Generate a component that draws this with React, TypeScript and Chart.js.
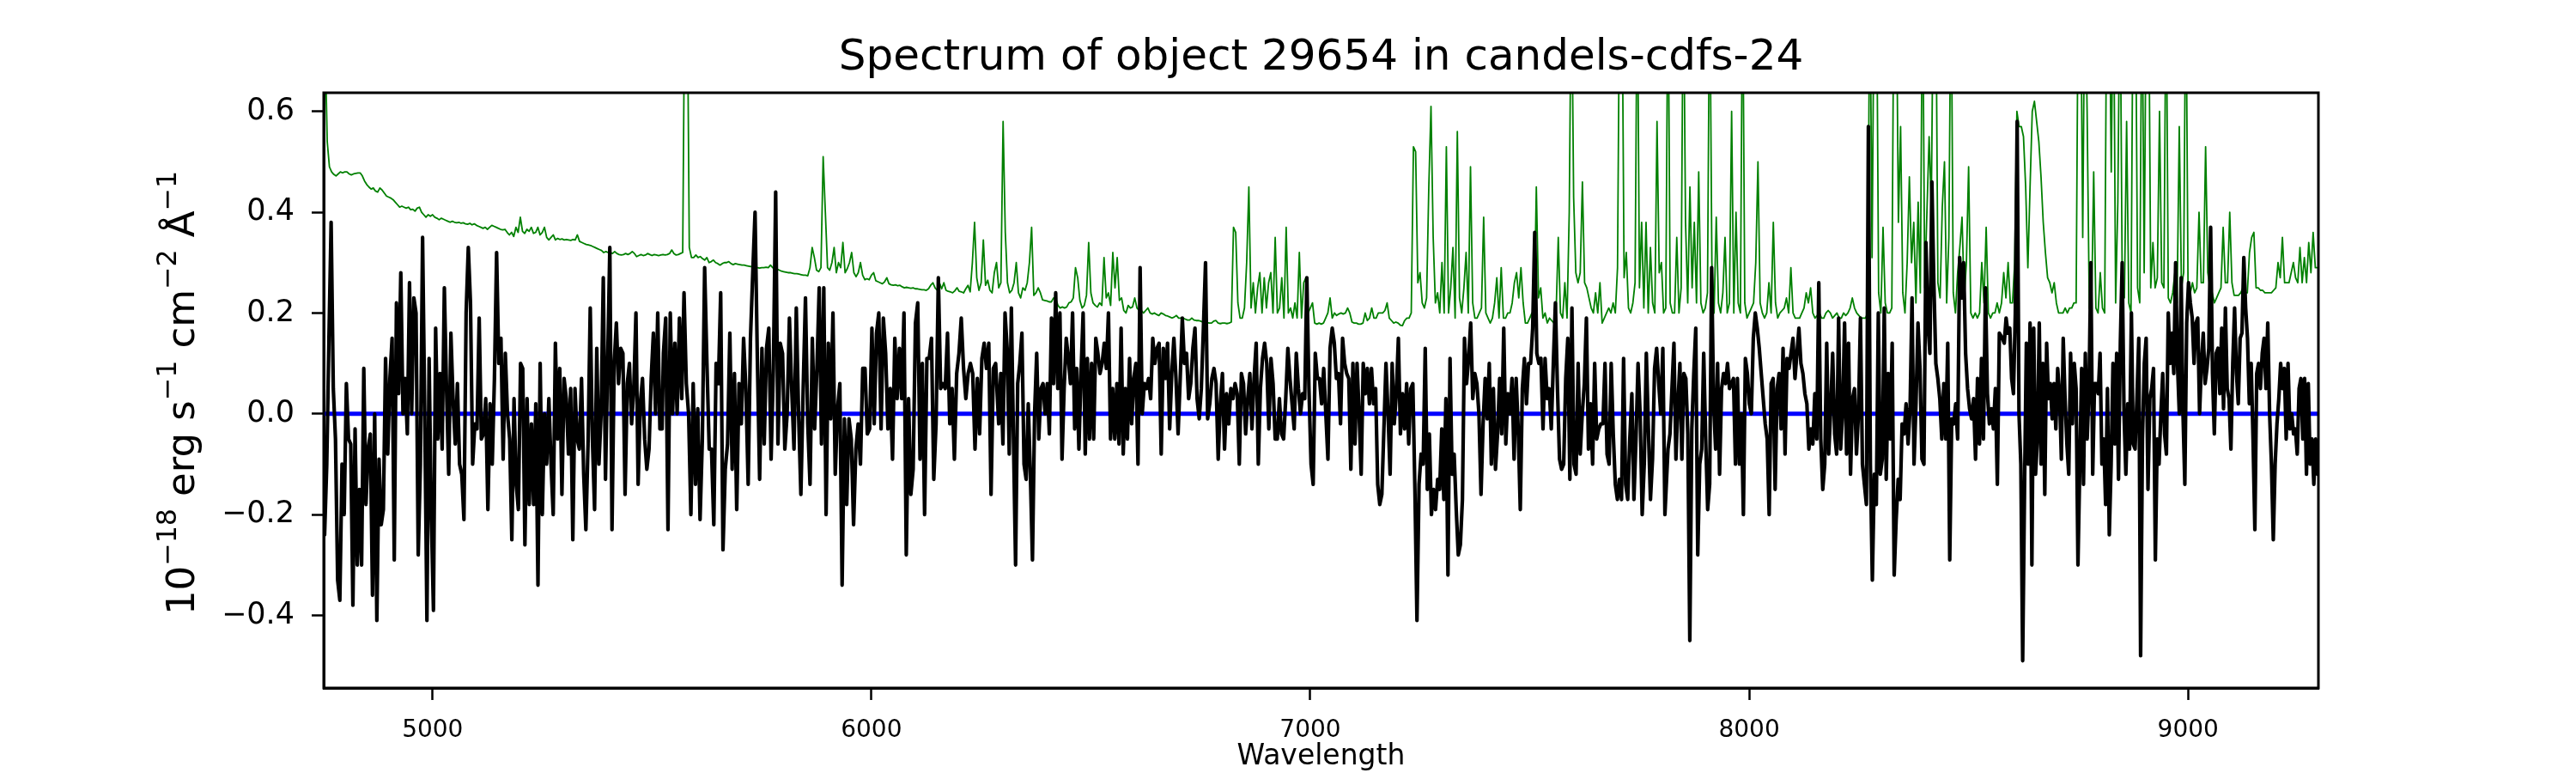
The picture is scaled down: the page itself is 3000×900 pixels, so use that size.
import React, { useEffect, useRef } from 'react';
import Chart from 'chart.js/auto';

const TITLE = 'Spectrum of object 29654 in candels-cdfs-24';
const X_LABEL = 'Wavelength';
// y label pieces: plain text and raised exponents
const Y_LABEL_PARTS = [
  { text: '10', sup: false },
  { text: '\u221218', sup: true },
  { text: ' erg s', sup: false },
  { text: '\u22121', sup: true },
  { text: ' cm', sup: false },
  { text: '\u22122', sup: true },
  { text: ' Å', sup: false },
  { text: '\u22121', sup: true },
];

const X_TICKS = [5000, 6000, 7000, 8000, 9000];
const Y_TICKS = [-0.4, -0.2, 0.0, 0.2, 0.4, 0.6];
const X_RANGE = [4752, 9297];
const Y_RANGE = [-0.544, 0.637];

const FLUX_RANGES = [
  [4754, 5523], [5526, 6283], [6290, 7045], [7050, 7808], [7815, 8570], [8577, 9295],
];
const FLUX_A = [
  -0.24, -0.1, 0.15, 0.38, 0.05, -0.05, -0.33, -0.37, -0.1, -0.2, 0.06, -0.05, -0.06, -0.38, -0.03, -0.3,
  -0.15, -0.3, 0.09, -0.18, -0.07, -0.04, -0.36, 0.0, -0.41, -0.09, -0.22, -0.19, 0.11, -0.08, 0.07, 0.15,
  -0.29, 0.22, 0.04, 0.28, 0.0, 0.07, -0.04, 0.26, 0.0, 0.23, 0.2, -0.28, -0.1, 0.35, 0.0, -0.41, 0.11,
  -0.2, -0.39, 0.17, -0.05, 0.08, -0.07, 0.25, 0.05, -0.12, 0.16, 0.03, -0.06, 0.06, -0.1, -0.12, -0.21,
  0.2, 0.33, 0.22, -0.1, -0.02, -0.03, 0.19, -0.05, -0.04, 0.03, -0.19, 0.02, -0.1, 0.07, 0.32, 0.1, 0.15,
  -0.09, 0.12, 0.0, -0.05, -0.25, 0.03, -0.14, -0.19, 0.1, 0.09, -0.26, 0.03, -0.18, -0.02, -0.18, 0.02,
  -0.34, 0.1, -0.2, 0.0, -0.1, 0.03, -0.1, -0.2, 0.14, -0.05, 0.09, -0.16, 0.07, 0.03, -0.08, 0.05, -0.25,
  0.05, -0.05, -0.07, 0.07, -0.12, -0.23, -0.06, 0.21, -0.05, -0.19, 0.13, -0.1, 0.0, 0.27, -0.13, 0.1,
  0.33, -0.23, 0.1, 0.18, 0.06, 0.13, 0.12, -0.16, 0.06, 0.1, -0.02, 0.05, 0.2, -0.14, 0.02, 0.07, -0.05,
  -0.11, -0.07, 0.07, 0.16, 0.0, 0.2, -0.03, -0.03,
];
const FLUX_B = [
  0.12, 0.19, -0.23, 0.2, 0.0, 0.14, 0.0, 0.19, 0.03, 0.24, 0.06, 0.0, -0.2, 0.06, -0.14, 0.01, -0.21,
  -0.05, 0.29, 0.1, -0.07, -0.07, -0.22, 0.1, 0.06, 0.24, -0.27, -0.11, -0.06, 0.16, -0.11, 0.08, -0.19,
  0.06, -0.02, 0.15, 0.05, -0.14, 0.15, 0.28, 0.4, 0.11, -0.13, 0.13, -0.06, 0.13, 0.17, -0.09, 0.09, 0.44,
  -0.06, 0.14, 0.12, -0.07, 0.0, 0.19, 0.05, -0.07, 0.21, 0.0, -0.16, 0.05, 0.23, -0.02, -0.14, 0.15, -0.03,
  0.09, 0.25, -0.06, 0.25, -0.2, 0.14, -0.01, 0.2, -0.12, 0.01, 0.06, -0.34, -0.01, -0.18, -0.01, -0.05,
  -0.22, -0.07, -0.02, -0.1, 0.09, 0.09, -0.04, -0.03, 0.17, -0.02, 0.16, 0.2, -0.03, 0.19, 0.12, -0.03,
  0.05, -0.09, 0.15, 0.03, 0.13, 0.03, 0.2, -0.28, 0.03, -0.16, -0.11, 0.18, 0.22, -0.09, 0.1, -0.2, 0.11,
  0.11, 0.15, -0.13, -0.02, 0.27, 0.05, 0.06, 0.05, 0.16, -0.02, 0.05, -0.09, 0.08, 0.12, 0.19, 0.09, 0.03,
  0.08, 0.1, 0.08, -0.07, 0.07, -0.04, 0.11, 0.14, 0.09, 0.14, -0.16, 0.09, 0.1,
];
const FLUX_C = [
  -0.02, 0.08, -0.06, 0.2, 0.13, -0.08, 0.21, -0.05, -0.3, 0.06, 0.1, 0.16, -0.1, -0.13, 0.02, -0.12, -0.29,
  0.0, 0.12, -0.05, 0.05, 0.06, 0.0, 0.06, -0.04, 0.19, 0.06, 0.24, 0.05, 0.2, -0.09, 0.05, 0.15, 0.11, 0.06,
  0.2, -0.03, 0.09, -0.07, 0.08, 0.2, -0.08, 0.11, -0.05, 0.1, -0.05, 0.15, 0.12, 0.08, 0.1, 0.14, 0.09, 0.2,
  -0.05, 0.05, -0.05, 0.06, -0.06, 0.17, -0.08, 0.05, -0.05, 0.11, -0.02, 0.07, 0.1, -0.1, 0.29, 0.0, 0.06,
  0.05, 0.07, 0.03, 0.15, 0.1, 0.13, 0.14, -0.08, 0.13, 0.07, 0.14, -0.03, 0.08, 0.15, 0.07, -0.04, 0.07,
  0.19, 0.1, 0.12, 0.03, 0.06, 0.13, 0.17, 0.03, -0.01, 0.05, 0.17, 0.3, -0.01, 0.02, 0.07, 0.09, 0.06,
  -0.09, 0.02, 0.08, -0.07, 0.04, -0.02, 0.05, 0.03, 0.06, 0.04, -0.1, 0.08, 0.06, -0.04, 0.03, 0.08, -0.03,
  0.07, 0.14, -0.1, 0.05, 0.11, 0.14, 0.1, -0.03, 0.11, 0.06, -0.05, -0.05, 0.03, -0.04, -0.05, 0.03, 0.13,
  0.07, 0.02, -0.03, 0.12, 0.05, 0.0, 0.04, 0.03, 0.27, 0.05, -0.1, -0.14, 0.12, 0.07, 0.07, 0.02, 0.09, 0.0,
  -0.09, 0.13,
];
const FLUX_D = [
  0.17, 0.14, 0.07, 0.08, -0.02, 0.15, 0.1, 0.08, 0.07, -0.11, 0.1, -0.06, 0.1, 0.0, -0.12, 0.1, 0.04, 0.09,
  0.02, 0.09, 0.02, 0.05, -0.14, -0.18, -0.16, -0.03, 0.1, 0.0, -0.12, 0.1, -0.02, 0.04, 0.15, -0.04, 0.04,
  -0.03, 0.06, -0.06, 0.05, 0.06, -0.15, -0.41, -0.14, -0.08, -0.1, 0.13, -0.15, -0.04, -0.2, -0.15, -0.19,
  -0.13, -0.15, -0.03, -0.17, 0.03, -0.32, 0.11, -0.12, -0.08, -0.19, -0.28, -0.26, -0.17, 0.15, 0.06, 0.11,
  0.18, 0.03, 0.08, 0.06, 0.0, -0.16, -0.02, 0.07, -0.01, 0.1, -0.1, 0.05, -0.11, -0.04, 0.07, -0.04, 0.17,
  -0.06, 0.04, 0.0, 0.07, -0.09, 0.07, -0.03, -0.19, 0.05, 0.11, 0.02, 0.1, 0.1, 0.17, 0.36, 0.12, 0.1, 0.11,
  -0.03, 0.11, 0.03, 0.05, -0.03, 0.1, 0.22, 0.05, -0.09, -0.11, -0.1, 0.07, 0.15, -0.13, 0.21, -0.1, -0.12,
  0.1, -0.08, 0.0, 0.06, 0.19, -0.07, 0.02, -0.1, 0.1, -0.05, -0.03, -0.02, -0.02, 0.1, -0.08, -0.1, 0.1,
  -0.04, -0.14, -0.17, -0.13, -0.17, 0.11, -0.14, -0.17, -0.05, 0.04, -0.17, -0.05, 0.1, 0.0, -0.2, -0.1,
  0.12, -0.03, -0.17, -0.09, 0.09, 0.13, 0.06, 0.0, 0.13, -0.2,
];
const FLUX_E = [
  -0.07, -0.04, 0.05, 0.14, -0.09, 0.02, 0.1, -0.09, 0.08, 0.07, -0.04, -0.45, -0.03, 0.08, 0.17, -0.28,
  -0.1, -0.07, 0.12, -0.05, -0.19, -0.14, 0.29, 0.02, -0.07, 0.1, -0.12, 0.05, 0.08, 0.06, 0.1, 0.05, 0.06,
  0.07, -0.1, 0.07, -0.1, 0.0, -0.2, 0.11, 0.08, 0.02, 0.0, 0.15, 0.2, 0.17, 0.13, 0.08, 0.03, -0.02, -0.05,
  -0.2, 0.06, 0.07, -0.15, 0.05, 0.08, -0.03, 0.13, -0.08, 0.11, 0.09, 0.12, 0.15, 0.07, 0.12, 0.17, 0.1,
  0.08, 0.04, 0.02, -0.07, -0.03, -0.06, 0.04, -0.05, 0.26, -0.05, -0.15, -0.1, 0.14, -0.08, 0.01, 0.12,
  -0.04, -0.08, 0.19, -0.07, 0.0, 0.18, -0.08, 0.14, -0.12, 0.03, 0.05, -0.08, 0.0, 0.19, -0.1, -0.14,
  -0.18, 0.57, -0.1, -0.33, -0.12, -0.18, 0.2, -0.12, -0.09, 0.21, -0.13, 0.08, -0.05, 0.14, -0.32, -0.21,
  -0.13, -0.17, -0.02, -0.04, 0.02, -0.06, 0.01, 0.23, -0.1, 0.02, 0.18, 0.09, -0.09, -0.1, 0.34, 0.18,
  0.12, 0.46, 0.26, 0.1, 0.07, 0.03, -0.05, 0.06, -0.05, 0.14, -0.29, -0.01, -0.02, 0.02, -0.05, 0.31,
  0.23, 0.3, 0.12, 0.05, 0.01, -0.01, 0.03, -0.09, 0.07, -0.06, 0.11, -0.05, 0.25, 0.04, -0.02, 0.01,
  -0.03, 0.05, -0.14, 0.16,
];
const FLUX_F = [
  0.15, 0.14, 0.19, 0.16, 0.17, 0.07, 0.04, 0.2, 0.58, 0.0, -0.1, -0.49, -0.15, 0.14, -0.1, 0.18, -0.3,
  0.17, -0.12, -0.05, 0.18, -0.1, 0.1, -0.16, 0.14, 0.03, 0.06, -0.01, 0.06, -0.03, 0.09, 0.04, -0.09,
  0.15, 0.03, -0.06, -0.12, 0.12, -0.02, 0.1, 0.05, -0.3, -0.1, 0.09, -0.14, 0.12, -0.05, 0.05, 0.3, -0.12,
  0.06, 0.06, 0.04, 0.12, -0.1, -0.05, -0.18, 0.05, -0.24, -0.1, 0.1, -0.06, 0.12, -0.13, 0.14, 0.3, 0.0,
  -0.12, 0.02, -0.07, 0.2, -0.06, -0.07, 0.03, 0.15, -0.48, -0.05, 0.1, 0.15, -0.15, 0.03, 0.05, 0.09,
  -0.29, -0.05, -0.1, 0.0, 0.08, -0.04, -0.08, 0.2, 0.1, 0.16, 0.08, 0.3, 0.1, 0.0, 0.27, 0.0, -0.14, 0.18,
  0.26, 0.22, 0.19, 0.1, 0.18, 0.19, 0.0, 0.1, 0.16, 0.06, 0.09, 0.13, 0.37, 0.08, -0.04, 0.12, 0.13, 0.04,
  0.17, 0.01, 0.21, 0.05, 0.03, -0.07, 0.1, 0.21, 0.08, 0.02, 0.15, 0.16, 0.31, 0.21, 0.15, 0.02, 0.1,
  -0.05, -0.23, 0.08, 0.1, 0.05, 0.12, 0.15, 0.05, 0.18, 0.0, -0.1, -0.25, -0.1, -0.02, 0.03, 0.1, 0.05,
  0.09, -0.05, 0.1, -0.03, 0.0, -0.04, -0.03, -0.08, 0.05, 0.07, -0.05, 0.07, -0.12, 0.06, -0.1, -0.05,
  -0.14, -0.05, -0.12,
];

// noise / sky spectrum (green)
const SKY_RANGES = [
  [4755, 5520], [5525, 6280], [6285, 7040], [7045, 7800], [7805, 8560], [8565, 9295],
];
const SKY_A = [
  0.75, 0.54, 0.49, 0.48, 0.475, 0.472, 0.476, 0.48, 0.478, 0.48, 0.48, 0.476, 0.474, 0.476, 0.477, 0.478,
  0.478, 0.472, 0.462, 0.455, 0.45, 0.446, 0.448, 0.442, 0.44, 0.448, 0.444, 0.438, 0.432, 0.43, 0.428,
  0.425, 0.42, 0.415, 0.41, 0.412, 0.41, 0.408, 0.41, 0.405, 0.406, 0.402, 0.408, 0.41, 0.4, 0.395, 0.39,
  0.395, 0.392, 0.395, 0.39, 0.388, 0.385, 0.388, 0.386, 0.384, 0.382, 0.38, 0.382, 0.38, 0.379, 0.38,
  0.378, 0.379, 0.377, 0.376, 0.378, 0.375, 0.377, 0.374, 0.372, 0.37, 0.368, 0.37, 0.366, 0.37, 0.374,
  0.372, 0.37, 0.368, 0.366, 0.365, 0.366, 0.36, 0.355, 0.36, 0.352, 0.37, 0.36, 0.39, 0.362, 0.358, 0.366,
  0.362, 0.37, 0.358, 0.36, 0.37, 0.355, 0.36, 0.37, 0.35, 0.345, 0.35, 0.355, 0.345, 0.348, 0.346, 0.347,
  0.345, 0.346, 0.345, 0.344, 0.346, 0.345, 0.355, 0.342, 0.34, 0.338, 0.336, 0.335, 0.334, 0.332, 0.33,
  0.328, 0.326, 0.324, 0.32, 0.322, 0.32, 0.32, 0.318, 0.322, 0.318, 0.316, 0.315, 0.316, 0.318, 0.316,
  0.318, 0.322, 0.318, 0.312, 0.314, 0.316, 0.314, 0.315, 0.318, 0.316, 0.314, 0.316, 0.315, 0.314, 0.315,
];
const SKY_B = [
  0.316, 0.315, 0.316, 0.318, 0.325, 0.318, 0.315, 0.316, 0.318, 0.32, 0.9, 0.9, 0.33, 0.31, 0.31, 0.315,
  0.31, 0.312, 0.308, 0.305, 0.31, 0.3, 0.302, 0.305, 0.3, 0.298, 0.295, 0.298, 0.3, 0.3, 0.302, 0.298,
  0.296, 0.298, 0.297, 0.296, 0.295, 0.295, 0.294, 0.293, 0.292, 0.293, 0.29, 0.29, 0.289, 0.29, 0.29,
  0.291, 0.29, 0.295, 0.29, 0.288, 0.287, 0.285, 0.283, 0.282, 0.281, 0.28, 0.28, 0.279, 0.278, 0.278,
  0.277, 0.276, 0.275, 0.275, 0.274, 0.29, 0.33, 0.31, 0.285, 0.282, 0.29, 0.51, 0.4, 0.29, 0.285, 0.3,
  0.33, 0.28, 0.3, 0.29, 0.34, 0.28, 0.288, 0.3, 0.32, 0.28, 0.272, 0.28, 0.3, 0.275, 0.266, 0.268, 0.266,
  0.275, 0.28, 0.264, 0.262, 0.26, 0.258, 0.262, 0.27, 0.258, 0.256, 0.255, 0.256, 0.254, 0.255, 0.252,
  0.25, 0.251, 0.25, 0.249, 0.25, 0.248, 0.248, 0.247, 0.246, 0.246, 0.245, 0.248, 0.255, 0.26, 0.25, 0.245,
  0.26, 0.248, 0.26, 0.245, 0.243, 0.242, 0.24, 0.244, 0.25, 0.243, 0.242, 0.24, 0.248, 0.255, 0.242, 0.3,
  0.38, 0.27, 0.245, 0.26, 0.345, 0.255, 0.265, 0.245, 0.24, 0.28,
];
const SKY_C = [
  0.3, 0.25, 0.26, 0.58, 0.36, 0.26, 0.24, 0.245, 0.26, 0.3, 0.24, 0.23, 0.25, 0.245, 0.26, 0.3, 0.37,
  0.235, 0.24, 0.25, 0.24, 0.226, 0.225, 0.224, 0.222, 0.222, 0.23, 0.228, 0.215, 0.21, 0.212, 0.21, 0.212,
  0.22, 0.222, 0.23, 0.29, 0.27, 0.225, 0.21, 0.215, 0.235, 0.34, 0.24, 0.22, 0.215, 0.212, 0.22, 0.215,
  0.31, 0.23, 0.24, 0.215, 0.32, 0.25, 0.31, 0.225, 0.23, 0.205, 0.2, 0.215, 0.21, 0.212, 0.23, 0.21,
  0.205, 0.205, 0.2, 0.205, 0.21, 0.2, 0.198, 0.2, 0.197, 0.195, 0.2, 0.198, 0.195, 0.194, 0.192, 0.19,
  0.192, 0.195, 0.19, 0.19, 0.19, 0.188, 0.186, 0.186, 0.19, 0.186, 0.185, 0.185, 0.184, 0.182, 0.18,
  0.181, 0.18, 0.18, 0.184, 0.185, 0.18, 0.179, 0.18, 0.18, 0.179, 0.18, 0.182, 0.37, 0.36, 0.22, 0.19,
  0.19, 0.21, 0.3, 0.45, 0.21, 0.26, 0.2, 0.25, 0.28, 0.2, 0.27, 0.21, 0.26, 0.28, 0.2, 0.35, 0.2, 0.21,
  0.27, 0.19, 0.37, 0.2, 0.21, 0.19, 0.22, 0.19, 0.32, 0.19, 0.26, 0.27, 0.2, 0.21, 0.22, 0.18, 0.178,
  0.18, 0.178, 0.18, 0.19, 0.2,
];
const SKY_D = [
  0.23, 0.19, 0.2, 0.195, 0.198, 0.2, 0.198, 0.2, 0.21, 0.2, 0.182, 0.18, 0.18, 0.178, 0.178, 0.18, 0.2,
  0.185, 0.19, 0.21, 0.19, 0.19, 0.2, 0.2, 0.2, 0.205, 0.22, 0.19, 0.185, 0.18, 0.182, 0.18, 0.176, 0.175,
  0.185, 0.19, 0.19, 0.2, 0.53, 0.52, 0.26, 0.28, 0.22, 0.21, 0.23, 0.45, 0.61, 0.35, 0.22, 0.24, 0.2,
  0.3, 0.2, 0.53, 0.2, 0.25, 0.33, 0.19, 0.56, 0.23, 0.2, 0.25, 0.32, 0.2, 0.49, 0.22, 0.19, 0.19, 0.2,
  0.21, 0.39, 0.2, 0.19, 0.18, 0.19, 0.22, 0.27, 0.19, 0.29, 0.19, 0.19, 0.2, 0.2, 0.22, 0.26, 0.28, 0.23,
  0.29, 0.22, 0.18, 0.18, 0.19, 0.2, 0.19, 0.45, 0.23, 0.25, 0.19, 0.2, 0.18, 0.19, 0.185, 0.18, 0.2, 0.35,
  0.2, 0.19, 0.26, 0.19, 0.4, 0.9, 0.43, 0.28, 0.26, 0.28, 0.46, 0.26, 0.25, 0.23, 0.21, 0.2, 0.24, 0.2,
  0.26, 0.18, 0.19, 0.2, 0.21, 0.2, 0.22, 0.2, 0.29, 0.9, 0.9, 0.27, 0.32, 0.21, 0.2, 0.22, 0.26, 0.9,
  0.25, 0.38, 0.21, 0.38, 0.2, 0.33, 0.22, 0.2, 0.58, 0.28, 0.3,
];
const SKY_E = [
  0.2, 0.21, 0.9, 0.22, 0.2, 0.2, 0.35, 0.2, 0.25, 0.9, 0.38, 0.22, 0.45, 0.25, 0.38, 0.22, 0.48, 0.22,
  0.2, 0.21, 0.24, 0.9, 0.3, 0.2, 0.39, 0.22, 0.2, 0.24, 0.35, 0.2, 0.22, 0.6, 0.2, 0.4, 0.22, 0.2, 0.9,
  0.22, 0.19, 0.2, 0.21, 0.22, 0.3, 0.5, 0.22, 0.2, 0.19, 0.2, 0.26, 0.2, 0.38, 0.22, 0.19, 0.2, 0.205,
  0.21, 0.23, 0.2, 0.29, 0.2, 0.19, 0.19, 0.19, 0.2, 0.21, 0.24, 0.22, 0.25, 0.2, 0.19, 0.195, 0.2, 0.19,
  0.19, 0.2, 0.205, 0.2, 0.19, 0.195, 0.2, 0.19, 0.19, 0.2, 0.195, 0.2, 0.21, 0.23, 0.21, 0.2, 0.195, 0.19,
  0.19, 0.19, 0.2, 0.9, 0.31, 0.9, 0.9, 0.24, 0.2, 0.37, 0.22, 0.2, 0.2, 0.21, 0.9, 0.9, 0.38, 0.57, 0.24,
  0.2, 0.3, 0.47, 0.3, 0.38, 0.22, 0.42, 0.24, 0.9, 0.25, 0.4, 0.55, 0.41, 0.9, 0.9, 0.26, 0.23, 0.41, 0.5,
  0.22, 0.35, 0.9, 0.24, 0.2, 0.28, 0.33, 0.39, 0.23, 0.3, 0.49, 0.2, 0.19, 0.2, 0.19, 0.2, 0.3, 0.22,
  0.37, 0.2, 0.19, 0.2, 0.2,
];
const SKY_F = [
  0.22, 0.2, 0.22, 0.28, 0.23, 0.3, 0.22, 0.22, 0.3, 0.6, 0.57, 0.57, 0.55, 0.45, 0.29, 0.45, 0.6, 0.62,
  0.58, 0.54, 0.47, 0.38, 0.32, 0.27, 0.26, 0.24, 0.26, 0.22, 0.2, 0.2, 0.2, 0.21, 0.2, 0.21, 0.21, 0.22,
  0.22, 0.9, 0.9, 0.35, 0.9, 0.6, 0.21, 0.2, 0.48, 0.21, 0.2, 0.28, 0.21, 0.2, 0.9, 0.9, 0.48, 0.9, 0.22,
  0.42, 0.9, 0.26, 0.23, 0.58, 0.22, 0.2, 0.9, 0.9, 0.25, 0.22, 0.9, 0.28, 0.9, 0.9, 0.25, 0.34, 0.25,
  0.27, 0.6, 0.26, 0.25, 0.9, 0.23, 0.22, 0.24, 0.28, 0.22, 0.57, 0.25, 0.28, 0.9, 0.25, 0.24, 0.26, 0.24,
  0.25, 0.4, 0.26, 0.26, 0.53, 0.28, 0.25, 0.24, 0.22, 0.23, 0.24, 0.25, 0.37, 0.26, 0.26, 0.4, 0.26,
  0.235, 0.235, 0.235, 0.24, 0.25, 0.24, 0.24, 0.32, 0.35, 0.36, 0.25, 0.25, 0.245, 0.245, 0.24, 0.24,
  0.24, 0.24, 0.245, 0.25, 0.3, 0.27, 0.35, 0.26, 0.26, 0.26, 0.28, 0.3, 0.27, 0.26, 0.33, 0.26, 0.31,
  0.26, 0.34, 0.28, 0.36, 0.29, 0.29,
];

const ZERO_LEVEL = [0, 0];

const FONT = 'DejaVu Sans';

// spread a stretch of values evenly over its wavelength range
const toPoints = (range: number[], values: number[]) =>
  values.map((y, i) => ({ x: range[0] + (i * (range[1] - range[0])) / (values.length - 1), y }));

const framePlugin = {
  id: 'frame',
  afterDraw(chart: any) {
    const { ctx, chartArea } = chart;
    ctx.save();
    ctx.strokeStyle = '#000';
    ctx.lineWidth = 3;
    ctx.strokeRect(chartArea.left, chartArea.top, chartArea.right - chartArea.left, chartArea.bottom - chartArea.top);
    ctx.restore();
  },
};

// rotated y label with real superscripts (like matplotlib mathtext)
const yLabelPlugin = {
  id: 'yLabel',
  afterDraw(chart: any) {
    const { ctx, chartArea } = chart;
    const mainFont = `45px "${FONT}"`;
    const supFont = `31.5px "${FONT}"`;
    ctx.save();
    const widths = Y_LABEL_PARTS.map((p) => {
      ctx.font = p.sup ? supFont : mainFont;
      return ctx.measureText(p.text).width;
    });
    const total = widths.reduce((a, b) => a + b, 0);
    const cy = (chartArea.top + chartArea.bottom) / 2 + 3;
    ctx.translate(226, cy);
    ctx.rotate(-Math.PI / 2);
    ctx.fillStyle = '#000';
    ctx.textAlign = 'left';
    ctx.textBaseline = 'alphabetic';
    let x = -total / 2;
    Y_LABEL_PARTS.forEach((p, i) => {
      ctx.font = p.sup ? supFont : mainFont;
      ctx.fillText(p.text, x, p.sup ? -21 : 0);
      x += widths[i];
    });
    ctx.restore();
  },
};

const SpectrumChart: React.FC = () => {
  const chartRef = useRef<HTMLCanvasElement | null>(null);
  const chartInstanceRef = useRef<any>(null);

  useEffect(() => {
    document.body.style.margin = '0';
    if (!chartRef.current) return;
    const ctx = chartRef.current.getContext('2d');
    if (!ctx) return;

    if (chartInstanceRef.current) {
      chartInstanceRef.current.destroy();
    }

    const fluxSegments = [FLUX_A, FLUX_B, FLUX_C, FLUX_D, FLUX_E, FLUX_F];
    const skySegments = [SKY_A, SKY_B, SKY_C, SKY_D, SKY_E, SKY_F];
    const flux = fluxSegments.flatMap((seg, k) => toPoints(FLUX_RANGES[k], seg));
    const sky = skySegments.flatMap((seg, k) => toPoints(SKY_RANGES[k], seg));
    const zero = ZERO_LEVEL.map((y, i) => ({ x: X_RANGE[i], y }));

    chartInstanceRef.current = new Chart(ctx, {
      type: 'line',
      data: {
        datasets: [
          { label: 'flux', data: flux, borderColor: '#000000', borderWidth: 4.2, order: 0 },
          { label: 'zero', data: zero, borderColor: '#0000ff', borderWidth: 5, order: 1 },
          { label: 'sky', data: sky, borderColor: '#008000', borderWidth: 1.8, order: 2 },
        ],
      },
      options: {
        responsive: false,
        animation: false,
        devicePixelRatio: 1,
        events: [],
        layout: { padding: { left: 0, right: 300, top: 0, bottom: 0 } },
        elements: {
          point: { radius: 0 },
          line: { tension: 0, borderJoinStyle: 'round', borderCapStyle: 'round' },
        },
        plugins: {
          legend: { display: false },
          tooltip: { enabled: false },
          title: {
            display: true,
            fullSize: false,
            text: TITLE,
            color: '#000',
            font: { family: FONT, size: 50, weight: 'normal', lineHeight: 1.2 },
            padding: { top: 38, bottom: 10 },
          },
        },
        scales: {
          x: {
            type: 'linear',
            min: X_RANGE[0],
            max: X_RANGE[1],
            afterBuildTicks: (scale: any) => {
              scale.ticks = X_TICKS.map((value) => ({ value }));
            },
            afterFit: (scale: any) => {
              scale.height = 99;
            },
            ticks: {
              color: '#000',
              font: { family: FONT, size: 28 },
              padding: 19,
              maxRotation: 0,
              autoSkip: false,
              callback: (value: any) => String(value),
            },
            grid: { drawOnChartArea: false, drawTicks: true, tickLength: 14, tickWidth: 2.5, tickColor: '#000' },
            border: { display: true, color: '#000', width: 3 },
            title: {
              display: true,
              text: X_LABEL,
              color: '#000',
              font: { family: FONT, size: 33, lineHeight: 1 },
              padding: { top: 0, bottom: 2.5 },
            },
          },
          y: {
            type: 'linear',
            min: Y_RANGE[0],
            max: Y_RANGE[1],
            afterBuildTicks: (scale: any) => {
              scale.ticks = Y_TICKS.map((value) => ({ value }));
            },
            afterFit: (scale: any) => {
              scale.width = 377;
            },
            ticks: {
              color: '#000',
              font: { family: FONT, size: 35 },
              padding: 20,
              autoSkip: false,
              callback: (value: any) => {
                const n = Number(value);
                const s = Math.abs(n).toFixed(1);
                return n < -1e-9 ? '\u2212' + s : s;
              },
            },
            grid: { drawOnChartArea: false, drawTicks: true, tickLength: 14, tickWidth: 2.5, tickColor: '#000' },
            border: { display: true, color: '#000', width: 3 },
          },
        },
      },
      plugins: [framePlugin, yLabelPlugin],
    } as any);

    return () => {
      if (chartInstanceRef.current) {
        chartInstanceRef.current.destroy();
        chartInstanceRef.current = null;
      }
    };
  }, []);

  return (
    <div style={{ width: 3000, height: 900, background: '#fff' }}>
      <canvas ref={chartRef} width={3000} height={900} style={{ display: 'block', width: 3000, height: 900 }}></canvas>
    </div>
  );
};

export default function App() {
  return <SpectrumChart />;
}
